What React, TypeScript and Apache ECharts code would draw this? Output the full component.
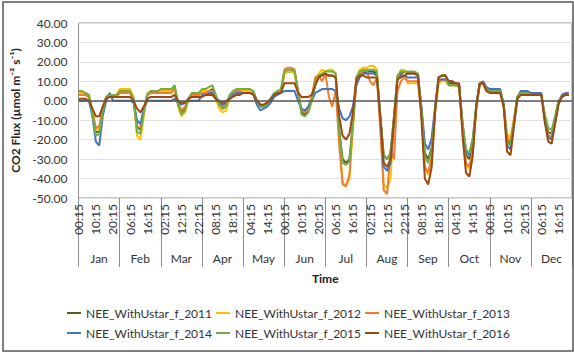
import React, { useEffect, useRef } from "react";
import * as echarts from "echarts";

const MONTHS = ["Jan", "Feb", "Mar", "Apr", "May", "Jun", "Jul", "Aug", "Sep", "Oct", "Nov", "Dec"];
// sampled hours of day (at HH:15) for each month
const SAMPLE_HOURS = [0, 2, 4, 6, 8, 10, 12, 14, 16, 18, 20, 22];
const SLOTS_PER_MONTH = 96; // 15-min slots
const Y_TICKS = [-50, -40, -30, -20, -10, 0, 10, 20, 30, 40];

const SERIES_NAMES = [
  "NEE_WithUstar_f_2011",
  "NEE_WithUstar_f_2012",
  "NEE_WithUstar_f_2013",
  "NEE_WithUstar_f_2014",
  "NEE_WithUstar_f_2015",
  "NEE_WithUstar_f_2016",
];

// values per month at SAMPLE_HOURS
const nee2011 = [
  3, 3, 3, 2, -6, -16, -16, -6, 1, 3, 3, 3,
  4, 4, 4, 4, 1, -13, -15, -6, 3, 4, 4, 4,
  4, 4, 5, 5, 6, -2, -6, -4, 1, 3, 3, 3,
  5, 5, 5, 6, 2, -2, -4, -3, 2, 4, 5, 5,
  5, 5, 5, 4, 0, -3, -3, -2, 0, 3, 4, 5,
  14, 15, 15, 15, 5, -6, -7, -5, 0, 8, 12, 14,
  13, 13, 13, 12, -15, -30, -32, -30, -12, 10, 13, 14,
  15, 15, 15, 14, -8, -28, -30, -27, -8, 12, 14, 15,
  14, 14, 14, 13, -4, -27, -30, -24, -4, 12, 13, 13,
  9, 9, 8, 8, -12, -28, -30, -22, -3, 9, 9, 6,
  5, 5, 5, 5, -2, -20, -22, -11, 2, 4, 4, 4,
  3, 3, 3, 3, -8, -16, -17, -10, 0, 2, 3, 3,
];
const nee2012 = [
  4, 4, 4, 3, -5, -15, -14, -5, 2, 3, 3, 3,
  6, 6, 6, 6, 2, -18, -20, -8, 4, 5, 5, 5,
  5, 5, 5, 5, 5, -3, -8, -6, 0, 3, 3, 3,
  5, 5, 5, 5, 1, -4, -6, -5, 1, 4, 5, 5,
  5, 5, 5, 4, -1, -3, -3, -2, 0, 3, 5, 5,
  14, 15, 15, 14, 4, -5, -6, -4, 0, 10, 14, 16,
  15, 16, 16, 14, -20, -42, -44, -40, -15, 12, 16, 17,
  17, 18, 18, 16, -12, -43, -45, -40, -12, 12, 16, 16,
  9, 9, 9, 9, -6, -35, -38, -30, -6, 9, 10, 10,
  8, 8, 8, 7, -14, -33, -35, -26, -4, 8, 9, 5,
  4, 4, 4, 4, -2, -17, -19, -9, 2, 4, 4, 4,
  3, 3, 3, 3, -9, -18, -18, -11, -1, 2, 3, 3,
];
const nee2013 = [
  3, 3, 3, 2, -6, -14, -13, -4, 2, 3, 3, 2,
  4, 4, 4, 4, 0, -13, -14, -5, 3, 4, 4, 4,
  4, 4, 4, 4, 7, -1, -5, -3, 1, 3, 3, 3,
  4, 4, 5, 5, 2, -1, -3, -2, 2, 4, 5, 5,
  4, 4, 4, 4, 0, -2, -2, -1, 1, 3, 4, 4,
  16, 17, 17, 16, 5, -5, -6, -3, 2, 12, 13, 10,
  14, 2, -3, 5, -22, -43, -44, -38, -12, 8, 14, 15,
  16, 10, 8, 12, -14, -46, -48, -25, -30, 5, 10, 12,
  10, 10, 10, 10, -6, -34, -37, -29, -5, 10, 11, 11,
  8, 8, 8, 7, -14, -32, -34, -25, -4, 8, 9, 5,
  4, 4, 4, 4, -2, -19, -21, -10, 2, 4, 4, 4,
  3, 3, 3, 3, -9, -18, -19, -11, -1, 2, 3, 3,
];
const nee2014 = [
  0, 0, 0, 0, -8, -21, -23, -8, 0, 4, 0, 0,
  0, 0, 0, 0, -1, -10, -12, -4, 0, 0, 0, 0,
  0, 0, 0, 0, 1, -1, -2, -1, 0, 0, 0, 0,
  3, 3, 4, 4, 1, -1, -2, -1, 1, 3, 4, 4,
  4, 4, 4, 3, -2, -5, -4, -3, -1, 2, 3, 4,
  5, 5, 5, 5, 0, -4, -5, -3, 0, 4, 5, 6,
  6, 6, 6, 5, -4, -9, -10, -8, -3, 8, 12, 14,
  14, 14, 14, 13, -9, -34, -36, -32, -10, 11, 13, 13,
  12, 12, 12, 12, -3, -22, -25, -19, -3, 11, 11, 11,
  10, 10, 9, 8, -12, -26, -28, -20, -3, 9, 10, 7,
  6, 6, 6, 6, -2, -23, -25, -12, 2, 5, 5, 5,
  4, 4, 4, 4, -10, -19, -20, -11, -1, 3, 4, 4,
];
const nee2015 = [
  5, 5, 4, 3, -7, -18, -17, -6, 2, 3, 3, 3,
  5, 5, 5, 5, 1, -16, -17, -6, 3, 5, 5, 5,
  6, 6, 6, 6, 8, -2, -7, -5, 1, 4, 4, 4,
  6, 6, 7, 8, 3, -2, -4, -3, 3, 5, 6, 6,
  6, 6, 6, 5, 0, -3, -3, -2, 1, 4, 5, 6,
  15, 16, 16, 15, 5, -7, -8, -6, 0, 9, 13, 14,
  15, 15, 15, 14, -15, -32, -33, -31, -12, 12, 15, 16,
  16, 16, 16, 15, -8, -28, -30, -27, -8, 13, 15, 15,
  15, 15, 15, 14, -4, -29, -32, -25, -4, 12, 13, 13,
  8, 8, 8, 7, -11, -25, -27, -19, -2, 9, 9, 6,
  5, 5, 5, 5, -2, -21, -23, -11, 2, 4, 4, 4,
  3, 3, 3, 3, -7, -14, -15, -8, 0, 2, 3, 3,
];
const nee2016 = [
  1, 1, 1, 0, -4, -8, -8, -3, 1, 2, 2, 2,
  2, 2, 2, 2, 0, -4, -6, -3, 1, 2, 2, 2,
  2, 2, 2, 2, 3, 0, -1, -1, 1, 2, 2, 2,
  2, 3, 3, 3, 1, 0, -1, 0, 1, 2, 3, 3,
  4, 4, 4, 3, 0, -2, -2, -1, 1, 3, 4, 4,
  9, 9, 9, 9, 4, 2, 2, 2, 3, 8, 12, 13,
  14, 13, 13, 12, -8, -18, -20, -17, -6, 11, 13, 13,
  12, 12, 12, 12, -8, -32, -34, -30, -10, 11, 12, 13,
  14, 14, 14, 13, -9, -40, -43, -34, -5, 12, 13, 13,
  10, 10, 9, 9, -18, -37, -39, -28, -3, 9, 9, 5,
  4, 4, 4, 4, -3, -26, -28, -13, 1, 3, 3, 3,
  3, 3, 3, 3, -11, -21, -22, -12, -2, 2, 3, 3,
];

const SERIES_VALUES = [nee2011, nee2012, nee2013, nee2014, nee2015, nee2016];
const COLORS = ["#4F6228", "#FFC000", "#ED7D31", "#4472C4", "#70AD47", "#9E480E"];

const FONT = "Lato, 'Noto Sans', sans-serif";

function buildCategories(): string[] {
  const cats: string[] = [];
  for (let m = 0; m < MONTHS.length; m++) {
    for (let i = 0; i < SLOTS_PER_MONTH; i++) {
      const mins = (15 + i * 15) % 1440;
      const hh = Math.floor(mins / 60);
      const mm = mins % 60;
      cats.push(String(hh).padStart(2, "0") + ":" + String(mm).padStart(2, "0"));
    }
  }
  return cats;
}

function buildSeriesData(values: number[]): (number | null)[] {
  const out: (number | null)[] = new Array(MONTHS.length * SLOTS_PER_MONTH).fill(null);
  for (let m = 0; m < MONTHS.length; m++) {
    SAMPLE_HOURS.forEach((h, k) => {
      out[m * SLOTS_PER_MONTH + h * 4] = values[m * SAMPLE_HOURS.length + k];
    });
  }
  return out;
}

export default function App() {
  const ref = useRef<HTMLDivElement>(null);
  useEffect(() => {
    if (!ref.current) return;
    const chart = echarts.init(ref.current, undefined, { renderer: "svg" });
    const categories = buildCategories();
    const legendBase = {
      icon: "rect",
      itemWidth: 14,
      itemHeight: 2,
      itemGap: 4,
      left: 62,
      textStyle: { fontSize: 12, color: "#333", fontFamily: FONT },
    };
    chart.setOption({
      animation: false,
      backgroundColor: "#fff",
      textStyle: { fontFamily: FONT },
      grid: {
        left: 78.5,
        right: 2,
        top: 23,
        bottom: 159,
        show: true,
        borderColor: "#8c8c8c",
        borderWidth: 1,
      },
      graphic: [
        {
          type: "rect",
          shape: { x: 3, y: 2, width: 570, height: 349 },
          style: { fill: "none", stroke: "#555", lineWidth: 1.5 },
          silent: true,
          z: 100,
        },
      ],
      legend: [
        { ...legendBase, top: 302, data: SERIES_NAMES.slice(0, 3) },
        { ...legendBase, top: 322, data: SERIES_NAMES.slice(3) },
      ],
      xAxis: [
        {
          type: "category",
          data: categories,
          position: "bottom",
          offset: 0,
          axisLine: { show: false },
          axisTick: { show: false },
          splitLine: { show: false },
          axisLabel: {
            interval: 39,
            rotate: 90,
            fontSize: 12,
            color: "#333",
            margin: 6,
            fontFamily: FONT,
          },
          name: "Time",
          nameLocation: "middle",
          nameGap: 74,
          nameTextStyle: { fontWeight: "bold", fontSize: 12, color: "#222", fontFamily: FONT },
        },
        {
          type: "category",
          data: MONTHS,
          position: "bottom",
          offset: 0,
          boundaryGap: true,
          axisLine: { show: false },
          axisTick: { show: true, length: 69, lineStyle: { color: "#8c8c8c", width: 1 } },
          axisLabel: { fontSize: 12, color: "#333", margin: 54, fontFamily: FONT },
          splitLine: { show: false },
        },
      ],
      yAxis: {
        type: "value",
        min: Y_TICKS[0],
        max: Y_TICKS[Y_TICKS.length - 1],
        interval: 10,
        axisLine: { show: false },
        axisTick: { show: false },
        axisLabel: {
          formatter: (v: number) => v.toFixed(2),
          fontSize: 12,
          color: "#333",
          margin: 11,
          fontFamily: FONT,
        },
        splitLine: { show: true, lineStyle: { color: "#e0e0e0", width: 1 } },
        name: "CO2 Flux (\u00b5mol m\u207b\u00b2 s\u207b\u00b9)",
        nameLocation: "middle",
        nameGap: 50,
        nameTextStyle: { fontWeight: "bold", fontSize: 12, color: "#222", fontFamily: FONT },
      },
      series: SERIES_NAMES.map((name, i) => ({
        name,
        type: "line",
        xAxisIndex: 0,
        data: buildSeriesData(SERIES_VALUES[i]),
        connectNulls: true,
        showSymbol: false,
        symbol: "none",
        color: COLORS[i],
        lineStyle: { width: 2, color: COLORS[i] },
        markLine:
          i === SERIES_NAMES.length - 1
            ? {
                silent: true,
                symbol: "none",
                label: { show: false },
                lineStyle: { color: "#595959", width: 1.5, type: "solid" },
                data: [{ yAxis: 0 }],
              }
            : undefined,
      })),
    });
    return () => chart.dispose();
  }, []);
  return (
    <div
      ref={ref}
      style={{ position: "fixed", left: 0, top: 0, width: 574, height: 357, background: "#fff" }}
    />
  );
}
